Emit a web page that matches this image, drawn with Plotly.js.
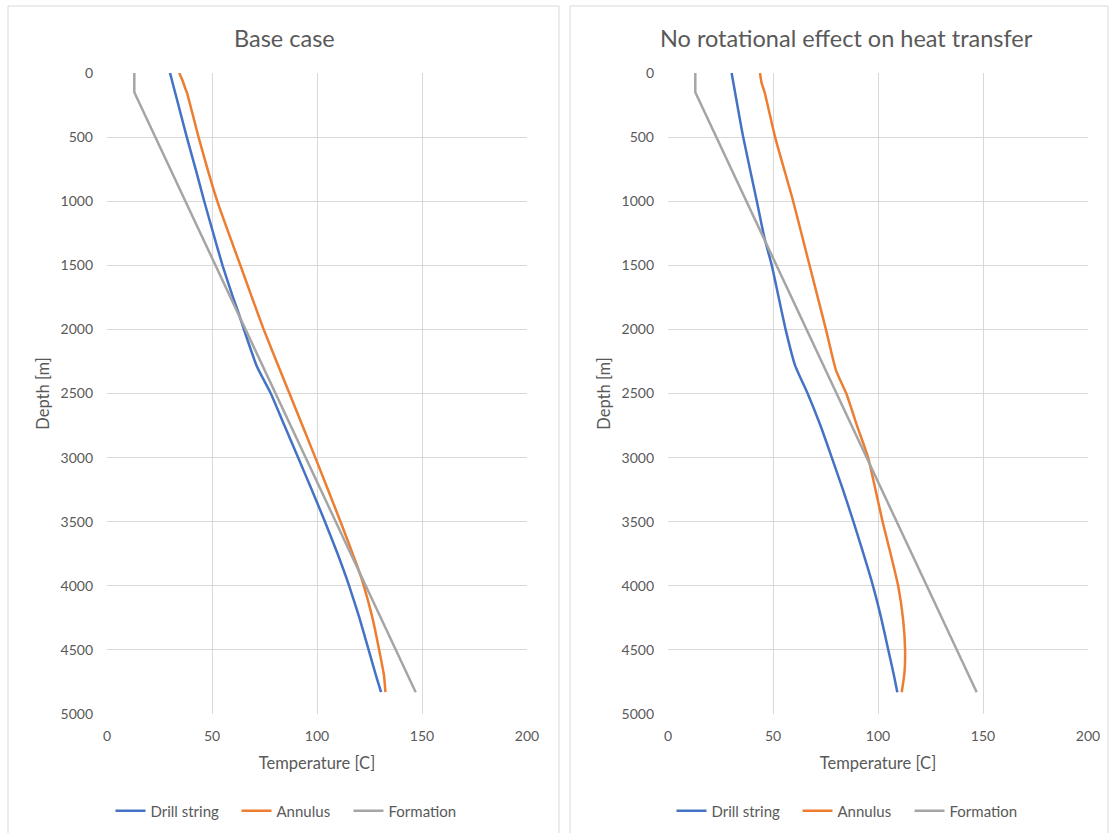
<!DOCTYPE html>
<html>
<head>
<meta charset="utf-8">
<script src="https://cdn.plot.ly/plotly-3.0.1.min.js"></script>
<style>html,body{margin:0;padding:0;background:#fff;}#chart{width:1111px;height:833px;}</style>
</head>
<body>
<div id="chart"></div>
<script>
// ---- Data ----
const seriesNames = ["Drill string", "Annulus", "Formation"];
const panelTitles = ["Base case", "No rotational effect on heat transfer"];
const xTitle = "Temperature [C]";
const yTitle = "Depth [m]";
const xTicks = [0, 50, 100, 150, 200];
const yTicks = [0, 500, 1000, 1500, 2000, 2500, 3000, 3500, 4000, 4500, 5000];

// Base case
const baseDrillDepth = [0, 250, 500, 750, 1000, 1250, 1500, 1750, 1850, 2000, 2290, 2500, 2750, 3000, 3250, 3500, 3750, 4000, 4250, 4500, 4700, 4830];
const baseDrillTemp  = [30, 34, 38, 42.2, 46.3, 50.6, 55, 60, 62.2, 65.2, 71.4, 78, 84.5, 91, 97.5, 103.8, 109.8, 115.3, 120.2, 124.6, 128.1, 130.5];
const baseAnnDepth = [0, 60, 130, 160, 500, 1000, 1500, 2000, 2500, 3000, 3500, 3860, 4000, 4250, 4500, 4700, 4830];
const baseAnnTemp  = [34.4, 36, 37.5, 38.2, 43.6, 52.5, 63.5, 74.6, 86.9, 99.2, 111.2, 119.5, 122.3, 126.4, 129.6, 131.9, 132.6];
const baseFormDepth = [0, 150, 4830];
const baseFormTemp  = [13, 13, 147];

// No rotational effect on heat transfer
const noRotDrillDepth = [0, 500, 1000, 1277, 1500, 2000, 2280, 2500, 2750, 3000, 3250, 3500, 4000, 4250, 4500, 4700, 4830];
const noRotDrillTemp  = [30.3, 35.8, 42.3, 45.8, 49.4, 56, 60.5, 66.5, 72.6, 78, 83.3, 88.3, 97.6, 101.5, 104.9, 107.6, 109.2];
const noRotAnnDepth = [0, 80, 150, 500, 1000, 1500, 2000, 2320, 2500, 2760, 3000, 3250, 3500, 3750, 4000, 4270, 4500, 4680, 4830];
const noRotAnnTemp  = [43.8, 44.6, 46, 51, 59.6, 67.4, 75.2, 80, 84.9, 90.2, 95.3, 98.8, 102.2, 106, 109.6, 112, 112.9, 112.6, 111.3];
const noRotFormDepth = [0, 150, 4830];
const noRotFormTemp  = [13, 13, 147];

// ---- Styling ----
const colors = ["#4472C4", "#ED7D31", "#A5A5A5"];
const legendWidths = [81, 67, 70];
const txt = "#595959";
const grid = "#D9D9D9";
const FONT = "Lato, 'Open Sans', sans-serif";
const W = 1111, H = 833;
const px = v => v / W, py = v => 1 - v / H;

function tr(x, y, i, xa, ya, leg, straight) {
  return {
    x: x, y: y, type: "scatter", mode: "lines", name: seriesNames[i],
    xaxis: xa, yaxis: ya, legend: leg, legendwidth: legendWidths[i],
    line: straight ? {color: colors[i], width: 2.5} : {color: colors[i], width: 2.5, shape: "spline", smoothing: 0.5}
  };
}

const data = [
  tr(baseDrillTemp, baseDrillDepth, 0, "x", "y", "legend"),
  tr(baseAnnTemp, baseAnnDepth, 1, "x", "y", "legend"),
  tr(baseFormTemp, baseFormDepth, 2, "x", "y", "legend", true),
  tr(noRotDrillTemp, noRotDrillDepth, 0, "x2", "y2", "legend2"),
  tr(noRotAnnTemp, noRotAnnDepth, 1, "x2", "y2", "legend2"),
  tr(noRotFormTemp, noRotFormDepth, 2, "x2", "y2", "legend2", true)
];

function xAxis(d, anchor) {
  return {
    domain: d, anchor: anchor, range: [0, 200], tickvals: xTicks, ticktext: xTicks.map(String),
    showgrid: true, gridcolor: grid, gridwidth: 1, zeroline: false, showline: false, ticks: "",
    tickfont: {family: FONT, size: 14, color: txt}, ticklabelstandoff: 12,
    title: {text: xTitle, font: {family: FONT, size: 16.5, color: txt}, standoff: 14},
    fixedrange: true
  };
}
function yAxis(anchor) {
  return {
    domain: [py(714), py(73)], anchor: anchor, range: [5000, 0], tickvals: yTicks, ticktext: yTicks.map(String),
    showgrid: true, gridcolor: grid, gridwidth: 1, zeroline: false, showline: false, ticks: "",
    tickfont: {family: FONT, size: 14, color: txt}, ticklabelstandoff: 13,
    title: {text: yTitle, font: {family: FONT, size: 16.5, color: txt}, standoff: 6},
    fixedrange: true
  };
}

const legendBase = {
  orientation: "h", yanchor: "middle", y: py(811), xanchor: "center",
  font: {family: FONT, size: 15, color: txt}, bgcolor: "rgba(0,0,0,0)", itemwidth: 30, tracegroupgap: 0
};

const layout = {
  width: W, height: H, autosize: false,
  margin: {l: 0, r: 0, t: 0, b: 0, pad: 0},
  paper_bgcolor: "#fff", plot_bgcolor: "#fff",
  font: {family: FONT, color: txt},
  xaxis: xAxis([px(107), px(527)], "y"),
  yaxis: yAxis("x"),
  xaxis2: xAxis([px(668), px(1088)], "y2"),
  yaxis2: yAxis("x2"),
  legend: Object.assign({}, legendBase, {x: px(287)}),
  legend2: Object.assign({}, legendBase, {x: px(848)}),
  shapes: [
    {type: "rect", xref: "paper", yref: "paper", x0: px(8), x1: px(559), y0: -0.02, y1: py(6), line: {color: grid, width: 1}},
    {type: "rect", xref: "paper", yref: "paper", x0: px(570), x1: px(1108), y0: -0.02, y1: py(6), line: {color: grid, width: 1}}
  ],
  annotations: [
    {text: panelTitles[0], xref: "paper", yref: "paper", x: px(284), y: py(38), xanchor: "center", yanchor: "middle", showarrow: false, font: {family: FONT, size: 23.5, color: txt}},
    {text: panelTitles[1], xref: "paper", yref: "paper", x: px(846), y: py(38), xanchor: "center", yanchor: "middle", showarrow: false, font: {family: FONT, size: 23.5, color: txt}}
  ]
};

Plotly.newPlot("chart", data, layout, {staticPlot: true, displayModeBar: false});
</script>
</body>
</html>
